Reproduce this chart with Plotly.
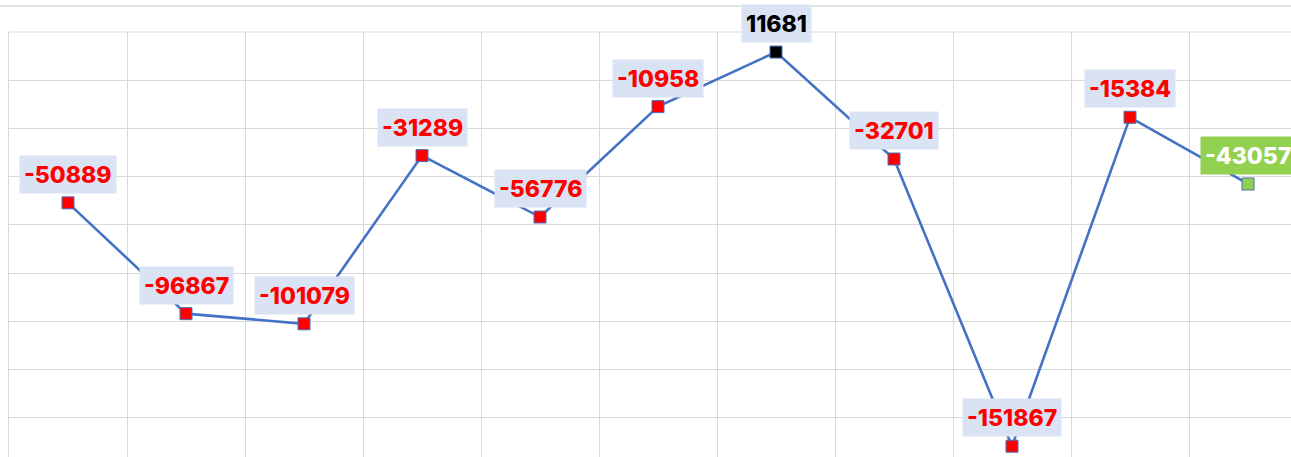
import plotly.graph_objects as go

# ---- data ----
periods = [1, 2, 3, 4, 5, 6, 7, 8, 9, 10, 11]
values = [-50889, -96867, -101079, -31289, -56776, -10958, 11681, -32701, -151867, -15384, -43057]
label_text = [str(v) for v in values]
marker_colors = ["#FF0000"] * 6 + ["#000000"] + ["#FF0000"] * 3 + ["#92D050"]
label_font_colors = ["#FF0000"] * 6 + ["#000000"] + ["#FF0000"] * 3 + ["#FFFFFF"]
label_bg_colors = ["#DAE3F3"] * 10 + ["#92D050"]

W, H = 1291, 457
m_left, m_top = 9, 32
px_per_cat = 118.0
px_per_unit = 48.2 / 20000.0

plot_w = W - m_left
plot_h = H - m_top
x_lo = 0.5
x_hi = x_lo + plot_w / px_per_cat
y_hi = 20000
y_lo = y_hi - plot_h / px_per_unit

fig = go.Figure()
fig.add_trace(go.Scatter(
    x=periods, y=values, mode="lines+markers",
    line=dict(color="#4472C4", width=2.6),
    marker=dict(symbol="square", size=12, color=marker_colors,
                line=dict(color="#4472C4", width=1)),
    cliponaxis=False, hoverinfo="skip", showlegend=False,
))

for x, y, t, fc, bg in zip(periods, values, label_text, label_font_colors, label_bg_colors):
    fig.add_annotation(
        x=x, y=y, text=t, showarrow=False, xanchor="center", yanchor="bottom",
        yshift=9, bgcolor=bg, borderpad=4, height=29,
        font=dict(family="Inter", size=23, color=fc, weight=800),
    )

# thin line near top of the image (at y = 6 px)
top_line_y = (plot_h + (m_top - 6)) / plot_h
fig.add_shape(type="line", xref="paper", yref="paper", x0=-0.01, x1=1.01,
              y0=top_line_y, y1=top_line_y,
              line=dict(color="#D9D9D9", width=1.5))
# top border of plot area
fig.add_shape(type="line", xref="paper", yref="paper", x0=0, x1=1.01, y0=1, y1=1,
              line=dict(color="#D9D9D9", width=1.2))

fig.update_layout(
    width=W, height=H,
    margin=dict(l=m_left, r=0, t=m_top, b=0, pad=0),
    paper_bgcolor="white", plot_bgcolor="white",
    hovermode=False,
    xaxis=dict(range=[x_lo, x_hi], tick0=0.5, dtick=1, showticklabels=False,
               showgrid=True, gridcolor="#D9D9D9", gridwidth=1.2, zeroline=False,
               ticks="", showline=False),
    yaxis=dict(range=[y_lo, y_hi], tick0=0, dtick=20000, showticklabels=False,
               showgrid=True, gridcolor="#D9D9D9", gridwidth=1.2, zeroline=False,
               ticks="", showline=True, linecolor="#D9D9D9", linewidth=1.2),
)

fig.write_html(
    "out.html",
    config={"displayModeBar": False},
    post_script="document.body.style.margin='0';document.body.style.overflow='hidden';",
)
